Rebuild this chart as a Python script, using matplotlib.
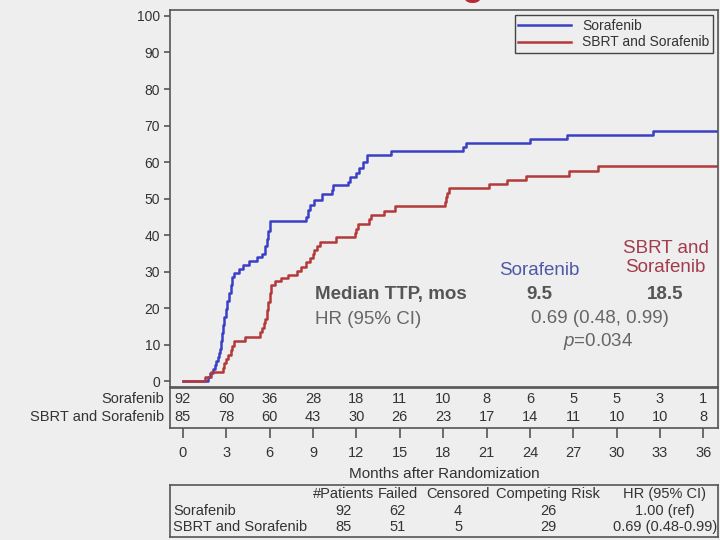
import matplotlib.pyplot as plt

plt.rcParams['font.family'] = ['Liberation Sans', 'DejaVu Sans']
plt.rcParams['mathtext.fontset'] = 'custom'
plt.rcParams['mathtext.it'] = 'Liberation Sans:italic'
plt.rcParams['mathtext.rm'] = 'Liberation Sans'

# cumulative incidence of progression (%), step times in months
soraf_t = [0, 1.75, 1.9, 2.05, 2.2, 2.3, 2.4, 2.5, 2.55, 2.6, 2.65, 2.7, 2.75,
           2.85, 2.95, 3.05, 3.2, 3.3, 3.4, 3.55, 3.9, 4.15, 4.6, 5.1, 5.5,
           5.65, 5.8, 5.9, 6.0, 8.5, 8.65, 8.8, 9.1, 9.6, 10.3, 10.4, 11.4,
           11.55, 12.0, 12.2, 12.45, 12.7, 14.4, 19.4, 19.55, 24.0, 26.6, 32.5]
soraf_v = [0, 1.1, 2.2, 3.3, 4.4, 5.5, 6.6, 7.7, 8.8, 10.0, 11.1, 13.2, 15.4,
           17.6, 19.8, 22.0, 24.2, 26.4, 28.6, 29.7, 30.8, 31.9, 32.9, 33.9, 34.9,
           36.9, 38.9, 41.0, 43.9, 45.0, 46.8, 48.2, 49.6, 51.3, 52.3, 53.7, 54.5,
           55.8, 57.0, 58.4, 60.0, 61.8, 63.0, 64.1, 65.2, 66.2, 67.3, 68.5]

sbrt_t = [0, 1.5, 1.95, 2.75, 2.85, 3.0, 3.1, 3.3, 3.4, 3.55, 4.3, 5.3, 5.45,
          5.6, 5.7, 5.8, 5.9, 6.0, 6.1, 6.35, 6.8, 7.3, 7.9, 8.2, 8.5, 8.8, 9.0,
          9.1, 9.25, 9.5, 10.6, 11.9, 12.0, 12.1, 12.9, 13.0, 13.9, 14.7, 18.1,
          18.2, 18.3, 18.4, 21.2, 22.4, 23.7, 26.7, 28.7]
sbrt_v = [0, 1.2, 2.5, 3.7, 4.9, 6.1, 7.3, 8.5, 9.7, 10.9, 12.2, 13.4, 14.6,
          15.8, 17.0, 19.4, 21.8, 24.2, 26.3, 27.3, 28.3, 29.2, 30.3, 31.4, 32.5,
          33.6, 34.8, 36.0, 37.1, 38.2, 39.4, 40.6, 41.8, 43.1, 44.3, 45.5, 46.7,
          47.9, 49.1, 50.4, 51.6, 52.8, 54.0, 55.1, 56.3, 57.5, 58.9]

# numbers at risk
months = [0, 3, 6, 9, 12, 15, 18, 21, 24, 27, 30, 33, 36]
soraf_risk = [92, 60, 36, 28, 18, 11, 10, 8, 6, 5, 5, 3, 1]
sbrt_risk = [85, 78, 60, 43, 30, 26, 23, 17, 14, 11, 10, 10, 8]

# summary table
arms = ['Sorafenib', 'SBRT and Sorafenib']
table_cols = ['#Patients', 'Failed', 'Censored', 'Competing Risk', 'HR (95% CI)']
table_vals = [['92', '62', '4', '26', '1.00 (ref)'],
              ['85', '51', '5', '29', '0.69 (0.48-0.99)']]

median_ttp = ['9.5', '18.5']
hr_ci = '0.69 (0.48, 0.99)'
p_val = '0.034'

bg = '#eeeeee'
blue = '#3b3fc4'
red = '#b23a3a'
blue_txt = '#4e58a6'
red_txt = '#a23c4c'
grey = '#666666'
dark = '#555555'
txt = '#333333'
x_end = 37

fig = plt.figure(figsize=(7.2, 5.4), dpi=100, facecolor=bg)

# main plot
ax = fig.add_axes([0.236, 0.283, 0.761, 0.698], facecolor=bg)
ax.step(soraf_t + [x_end], soraf_v + [soraf_v[-1]], where='post', color=blue,
        lw=1.8, label=arms[0])
ax.step(sbrt_t + [x_end], sbrt_v + [sbrt_v[-1]], where='post', color=red,
        lw=1.8, label=arms[1])
ax.set_xlim(-0.9, x_end)
ax.set_ylim(-1.64, 101.56)
ax.set_yticks(range(0, 101, 10))
ax.set_xticks([])
ax.tick_params(axis='y', direction='out', length=4, width=1.2, color=dark,
               labelsize=10, labelcolor=txt, pad=3)
for s in ax.spines.values():
    s.set_color(dark)
    s.set_linewidth(1.2)

leg = ax.legend(loc='upper right', fontsize=10, handlelength=3.8,
                fancybox=False, edgecolor='#444444', facecolor=bg,
                framealpha=1, borderaxespad=0.35, borderpad=0.25,
                labelspacing=0.2)
leg.get_frame().set_linewidth(1.0)
for t in leg.get_texts():
    t.set_color(txt)

# annotations
fs = 13.5
ax.text(9.12, 23.6, 'Median TTP, mos', fontsize=fs, fontweight='bold',
        color=dark, ha='left', va='center')
ax.text(9.12, 16.9, 'HR (95% CI)', fontsize=fs, color=grey, ha='left', va='center')
ax.text(24.65, 30.4, arms[0], fontsize=fs, color=blue_txt, ha='center', va='center')
ax.text(33.4, 33.6, 'SBRT and\nSorafenib', fontsize=fs, color=red_txt,
        ha='center', va='center', linespacing=1.15)
ax.text(24.65, 23.6, median_ttp[0], fontsize=fs, fontweight='bold', color=dark,
        ha='center', va='center')
ax.text(33.35, 23.6, median_ttp[1], fontsize=fs, fontweight='bold', color=dark,
        ha='center', va='center')
ax.text(28.85, 17.3, hr_ci, fontsize=fs, color=grey, ha='center', va='center')
ax.text(28.75, 10.9, r'$\it{p}$=' + p_val, fontsize=fs, color=grey,
        ha='center', va='center')

# numbers at risk
risk = fig.add_axes([0.236, 0.207, 0.761, 0.074], facecolor=bg)
risk.set_xlim(-0.9, x_end)
risk.set_ylim(0, 1)
risk.set_yticks([])
risk.set_xticks(months)
risk.tick_params(axis='x', direction='out', length=7, width=1.2, color=dark,
                 labelsize=10.5, labelcolor=txt, pad=6)
for s in risk.spines.values():
    s.set_color(dark)
    s.set_linewidth(1.2)
tr = risk.get_xaxis_transform()
for m, a, b in zip(months, soraf_risk, sbrt_risk):
    risk.text(m, 0.72, str(a), transform=tr, ha='center', va='center',
              fontsize=10.5, color=txt)
    risk.text(m, 0.27, str(b), transform=tr, ha='center', va='center',
              fontsize=10.5, color=txt)
risk.text(-0.01, 0.72, arms[0], transform=risk.transAxes, ha='right',
          va='center', fontsize=10.5, color=txt)
risk.text(-0.01, 0.27, arms[1], transform=risk.transAxes, ha='right',
          va='center', fontsize=10.5, color=txt)
risk.set_xlabel('Months after Randomization', fontsize=11, color=txt,
                labelpad=5)

# summary table
tab = fig.add_axes([0.236, 0.005, 0.761, 0.097], facecolor=bg)
tab.set_xticks([])
tab.set_yticks([])
for s in tab.spines.values():
    s.set_color(dark)
    s.set_linewidth(1.2)
col_x = [0.316, 0.416, 0.526, 0.69, 0.903]
row_y = [0.83, 0.5, 0.19]
for x, c in zip(col_x, table_cols):
    tab.text(x, row_y[0], c, transform=tab.transAxes, ha='center', va='center',
             fontsize=10.5, color=txt)
for r, (arm, vals) in enumerate(zip(arms, table_vals)):
    y = row_y[r + 1]
    tab.text(0.006, y, arm, transform=tab.transAxes, ha='left', va='center',
             fontsize=10.5, color=txt)
    for x, v in zip(col_x, vals):
        tab.text(x, y, v, transform=tab.transAxes, ha='center', va='center',
                 fontsize=10.5, color=txt)

# bottom of the slide title, cut by the top edge
fig.text(0.656, 1.01, 'g', fontsize=26, fontweight='bold', color='#b52a35',
         ha='center', va='baseline')

fig.savefig('out.png', dpi=100, facecolor=bg)
